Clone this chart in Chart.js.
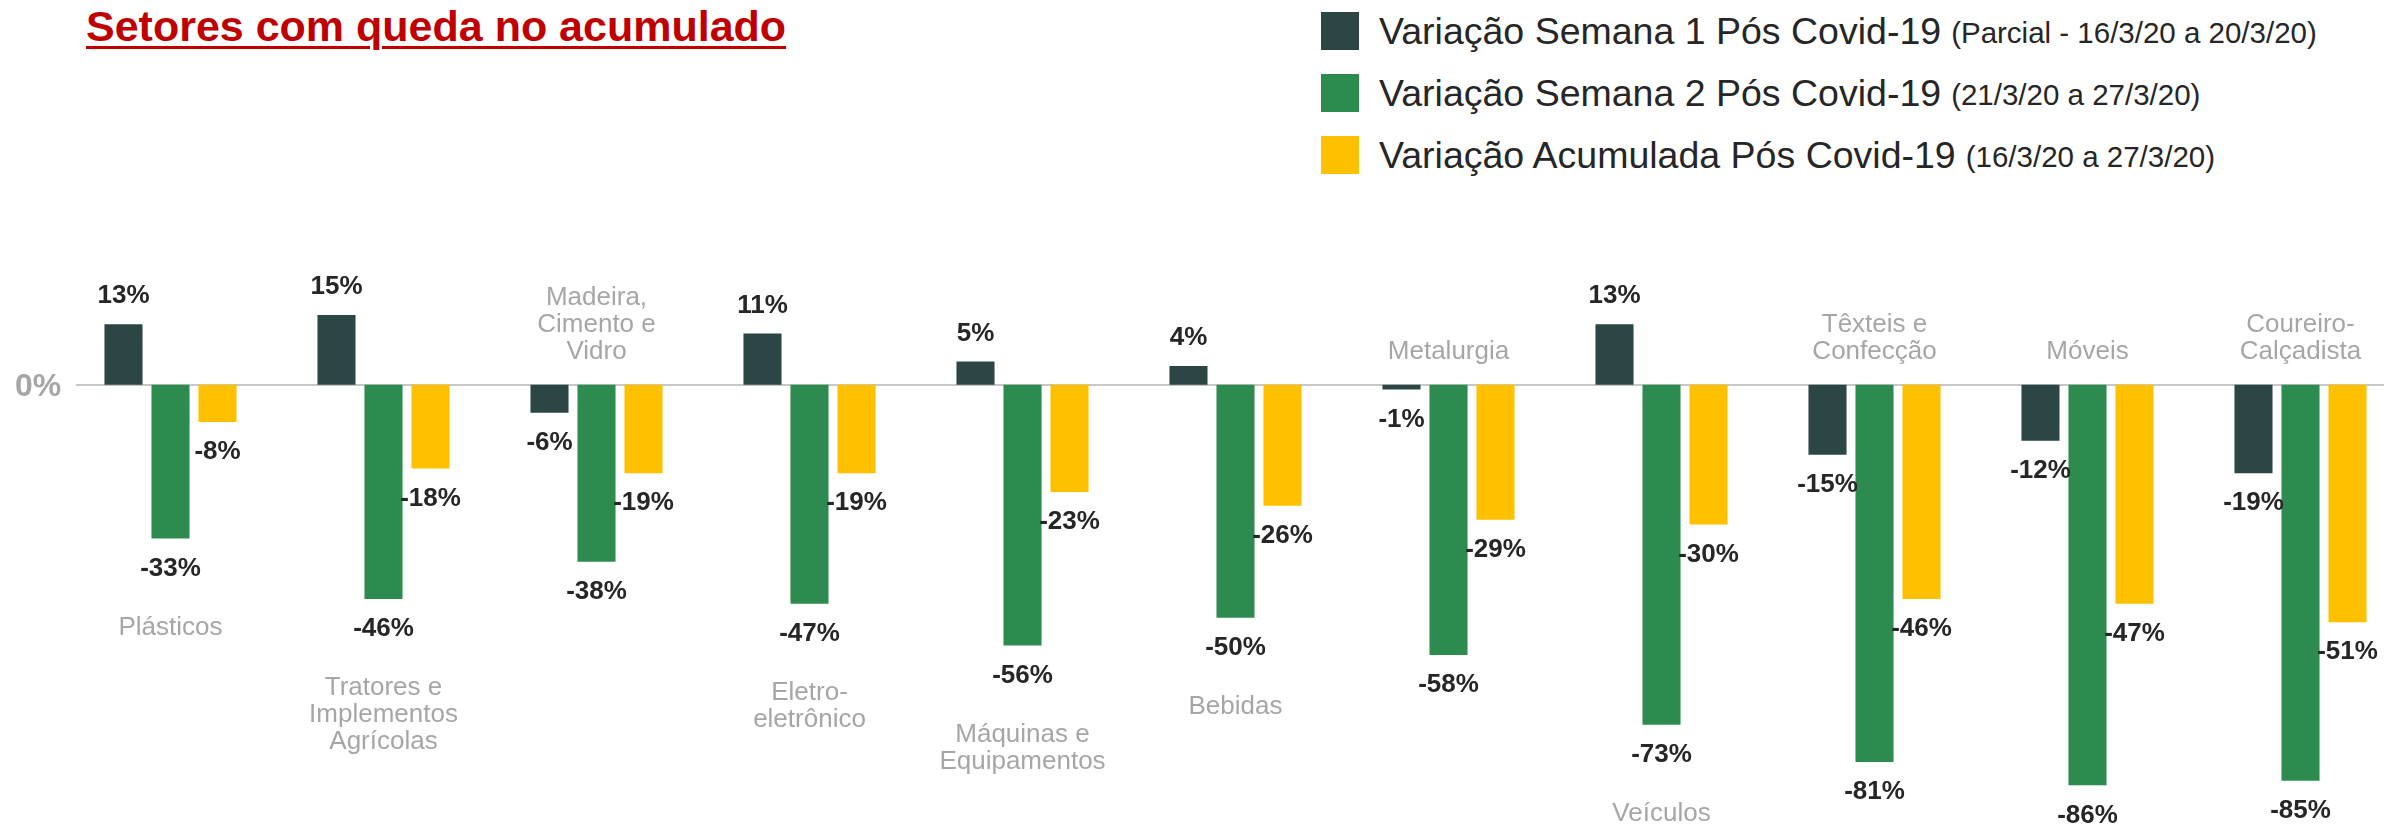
<!DOCTYPE html>
<html lang="pt-BR">
<head>
<meta charset="utf-8">
<title>Setores com queda no acumulado</title>
<script src="https://cdn.jsdelivr.net/npm/chart.js@4.4.1/dist/chart.umd.min.js"></script>
<style>
  html, body { margin: 0; padding: 0; background: #fff; overflow: hidden; }
  body { width: 2384px; height: 825px; position: relative; font-family: 'Liberation Sans', Arial, sans-serif; }
  #title {
    position: absolute; left: 86px; top: 2px; margin: 0;
    font-size: 43px; font-weight: 700; color: #c00000;
    text-decoration: underline; text-decoration-thickness: 3px; text-underline-offset: 5px;
    white-space: nowrap;
  }
  #legend { position: absolute; left: 1321px; top: 12px; }
  .item { display: flex; align-items: center; height: 38px; margin-bottom: 24px; white-space: nowrap; }
  .swatch { width: 38px; height: 38px; margin-right: 20px; flex: none; }
  .main { font-size: 37.5px; color: #262626; }
  .small { font-size: 29.5px; color: #262626; margin-left: 10px; padding-top: 3px; }
  #chartWrap { position: absolute; left: 0; top: 0; }
</style>
</head>
<body>
<h1 id="title">Setores com queda no acumulado</h1>
<div id="legend"></div>
<div id="chartWrap"><canvas id="chart" width="2410" height="825"></canvas></div>

<script>
// ─── Data ──────────────────────────────────────────────────
const CATEGORIES = [
  ['Plásticos'],
  ['Tratores e', 'Implementos', 'Agrícolas'],
  ['Madeira,', 'Cimento e', 'Vidro'],
  ['Eletro-', 'eletrônico'],
  ['Máquinas e', 'Equipamentos'],
  ['Bebidas'],
  ['Metalurgia'],
  ['Veículos'],
  ['Têxteis e', 'Confecção'],
  ['Móveis'],
  ['Coureiro-', 'Calçadista'],
];
const SEMANA1   = [13, 15, -6, 11, 5, 4, -1, 13, -15, -12, -19];
const SEMANA2   = [-33, -46, -38, -47, -56, -50, -58, -73, -81, -86, -85];
const ACUMULADA = [-8, -18, -19, -19, -23, -26, -29, -30, -46, -47, -51];

const SERIES_NAMES = [
  ['Variação Semana 1 Pós Covid-19', '(Parcial - 16/3/20 a 20/3/20)'],
  ['Variação Semana 2 Pós Covid-19', '(21/3/20 a 27/3/20)'],
  ['Variação Acumulada Pós Covid-19', '(16/3/20 a 27/3/20)'],
];

// ─── Styling ───────────────────────────────────────────────
const COLORS     = ['#2c4646', '#2e8b50', '#ffc000'];
const LABEL_DARK = '#262626';
const LABEL_GRAY = '#a6a6a6';
const AXIS_LINE  = '#c8c8c8';
const FONT       = "'Liberation Sans', Arial, sans-serif";

// HTML legend (mixed font sizes, so built by hand)
const legendEl = document.getElementById('legend');
SERIES_NAMES.forEach(([main, small], i) => {
  const row = document.createElement('div');
  row.className = 'item';
  row.innerHTML = `<span class="swatch" style="background:${COLORS[i]}"></span>` +
                  `<span class="main">${main}</span><span class="small">${small}</span>`;
  legendEl.appendChild(row);
});

// ─── Plugin: zero line, value labels, category labels ──────
const annotations = {
  id: 'annotations',
  beforeDatasetsDraw(chart) {
    const { ctx, scales: { y } } = chart;
    const y0 = Math.round(y.getPixelForValue(0));
    ctx.save();
    ctx.strokeStyle = AXIS_LINE;
    ctx.lineWidth = 2;
    ctx.beginPath();
    ctx.moveTo(76, y0);
    ctx.lineTo(chart.width, y0);
    ctx.stroke();
    ctx.fillStyle = LABEL_GRAY;
    ctx.font = `bold 32px ${FONT}`;
    ctx.textAlign = 'center';
    ctx.textBaseline = 'middle';
    ctx.fillText('0%', 38, y0 + 2);
    ctx.restore();
  },
  afterDatasetsDraw(chart) {
    const { ctx, scales: { x, y } } = chart;
    const y0 = y.getPixelForValue(0);
    ctx.save();
    ctx.textAlign = 'center';
    ctx.textBaseline = 'middle';

    // value labels
    ctx.font = `bold 26px ${FONT}`;
    ctx.fillStyle = LABEL_DARK;
    chart.data.datasets.forEach((ds, d) => {
      const meta = chart.getDatasetMeta(d);
      meta.data.forEach((bar, i) => {
        const v = ds.data[i];
        const ly = v >= 0 ? bar.y - 28 : bar.y + 30;
        ctx.fillText(`${v}%`, bar.x, ly);
      });
    });

    // category labels: below the lowest bar when the group has a positive bar, else above zero
    ctx.font = `26px ${FONT}`;
    ctx.fillStyle = LABEL_GRAY;
    const lineH = 27;
    CATEGORIES.forEach((lines, i) => {
      const cx = x.getPixelForValue(i);
      const vals = [SEMANA1[i], SEMANA2[i], ACUMULADA[i]];
      if (Math.max(...vals) > 0) {
        const top = y.getPixelForValue(Math.min(...vals)) + 89;
        lines.forEach((t, k) => ctx.fillText(t, cx, top + k * lineH));
      } else {
        const last = y0 - 33;
        lines.forEach((t, k) => ctx.fillText(t, cx, last - (lines.length - 1 - k) * lineH));
      }
    });
    ctx.restore();
  },
};

// ─── Chart ─────────────────────────────────────────────────
const barStyle = { categoryPercentage: 0.662, barPercentage: 0.81, borderWidth: 0 };

new Chart(document.getElementById('chart'), {
  type: 'bar',
  data: {
    labels: CATEGORIES.map(c => c.join(' ')),
    datasets: [
      { label: SERIES_NAMES[0][0], data: SEMANA1,   backgroundColor: COLORS[0], ...barStyle },
      { label: SERIES_NAMES[1][0], data: SEMANA2,   backgroundColor: COLORS[1], ...barStyle },
      { label: SERIES_NAMES[2][0], data: ACUMULADA, backgroundColor: COLORS[2], ...barStyle },
    ],
  },
  options: {
    responsive: false,
    animation: false,
    layout: { padding: { left: 64, right: 3, top: 245, bottom: 21 } },
    plugins: { legend: { display: false }, tooltip: { enabled: false } },
    scales: {
      x: { display: false },
      y: { display: false, min: -90, max: 30 },
    },
  },
  plugins: [annotations],
});
</script>
</body>
</html>
